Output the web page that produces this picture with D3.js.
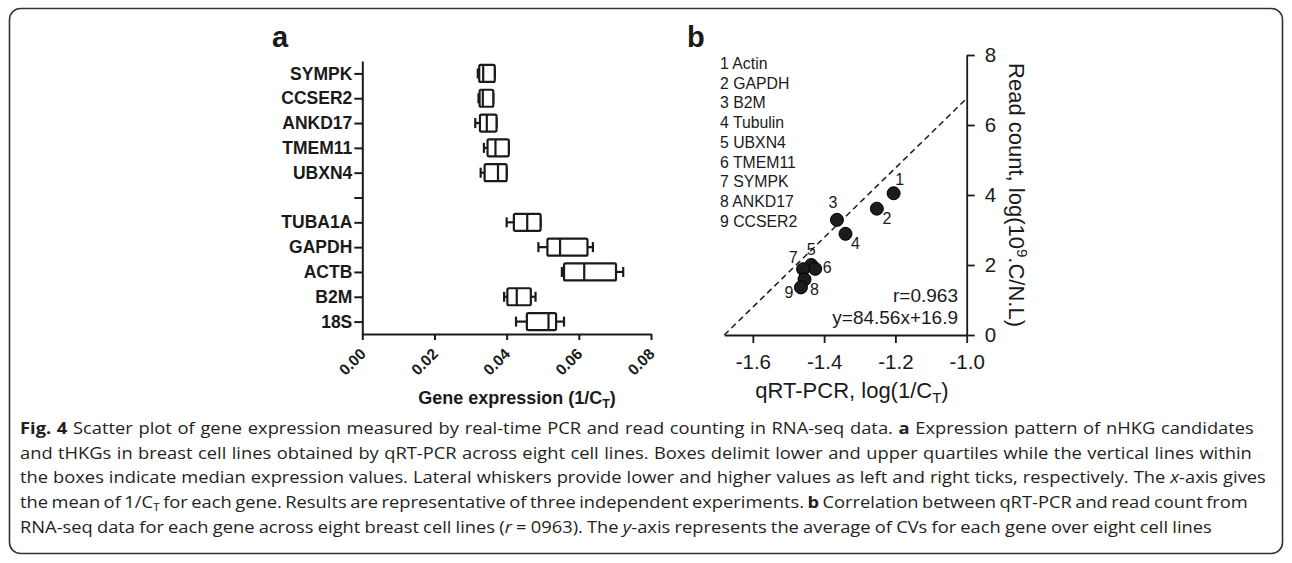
<!DOCTYPE html>
<html>
<head>
<meta charset="utf-8">
<script src="https://cdn.jsdelivr.net/npm/d3@7"></script>
<style>
  html, body { margin: 0; padding: 0; background: #fff; }
  svg { display: block; }
</style>
</head>
<body>
<svg id="chart" width="1292" height="563"></svg>
<script>
// ---------- Panel a data ----------
const categories = ["SYMPK","CCSER2","ANKD17","TMEM11","UBXN4","","TUBA1A","GAPDH","ACTB","B2M","18S"];
const boxGenes   = ["SYMPK","CCSER2","ANKD17","TMEM11","UBXN4","TUBA1A","GAPDH","ACTB","B2M","18S"];
const boxMin = [0.0320, 0.0322, 0.0313, 0.0337, 0.0328, 0.0400, 0.0488, 0.0553, 0.0393, 0.0426];
const boxQ1  = [0.0324, 0.0325, 0.0326, 0.0347, 0.0339, 0.0420, 0.0513, 0.0559, 0.0402, 0.0456];
const boxMed = [0.0335, 0.0334, 0.0345, 0.0369, 0.0376, 0.0457, 0.0548, 0.0615, 0.0428, 0.0516];
const boxQ3  = [0.0367, 0.0363, 0.0372, 0.0406, 0.0400, 0.0494, 0.0624, 0.0703, 0.0467, 0.0537];
const boxMax = [0.0367, 0.0363, 0.0372, 0.0406, 0.0400, 0.0494, 0.0639, 0.0723, 0.0480, 0.0559];
const xTicksA = [0, 0.02, 0.04, 0.06, 0.08];

// ---------- Panel b data ----------
const pointIds = [1,2,3,4,5,6,7,8,9];
const pointNames = ["Actin","GAPDH","B2M","Tubulin","UBXN4","TMEM11","SYMPK","ANKD17","CCSER2"];
const pointX = [-1.205, -1.252, -1.364, -1.340, -1.436, -1.425, -1.459, -1.455, -1.465];
const pointY = [4.05, 3.61, 3.29, 2.89, 2.00, 1.89, 1.88, 1.59, 1.36];
const labelSide = ["ne","se","nnw","se","n","e","wnw","se","sw"];
const fitLineX = [-1.68, -1.0];
const fitLineY = [0, 6.76];
const xTicksB = [-1.6, -1.4, -1.2, -1.0];
const yTicksB = [0, 2, 4, 6, 8];

// ---------- Caption ----------
const captionLines = [
  [["b","Fig. 4"],["n"," Scatter plot of gene expression measured by real-time PCR and read counting in RNA-seq data. "],["b","a"],["n"," Expression pattern of nHKG candidates"]],
  [["n","and tHKGs in breast cell lines obtained by qRT-PCR across eight cell lines. Boxes delimit lower and upper quartiles while the vertical lines within"]],
  [["n","the boxes indicate median expression values. Lateral whiskers provide lower and higher values as left and right ticks, respectively. The "],["i","x"],["n","-axis gives"]],
  [["n","the mean of 1/C"],["s","T"],["n"," for each gene. Results are representative of three independent experiments. "],["b","b"],["n"," Correlation between qRT-PCR and read count from"]],
  [["n","RNA-seq data for each gene across eight breast cell lines ("],["i","r"],["n"," = 0963). The "],["i","y"],["n","-axis represents the average of CVs for each gene over eight cell lines"]]
];
const captionWidths = [1235, 1233, 1247, 1229, 1193];

const svg = d3.select("#chart");
const ink = "#1a1a1a";
const FONT = "Liberation Sans, Arial, sans-serif";

// frame
svg.append("rect").attr("x", 9.5).attr("y", 8.5).attr("width", 1273).attr("height", 545)
  .attr("rx", 11).attr("fill", "none").attr("stroke", "#333").attr("stroke-width", 1.6);

// ================= Panel a =================
const xA = d3.scaleLinear().domain([0, 0.08]).range([362.3, 651]);
const yA = d3.scalePoint().domain(categories).range([61, 334]).padding(0.5);
const gA = svg.append("g").attr("font-family", FONT);

gA.append("text").attr("x", 272).attr("y", 47).attr("font-size", 29).attr("font-weight", "bold")
  .attr("fill", ink).text("a");

const yAxisA = gA.append("g").attr("transform", `translate(${xA(0)},0)`)
  .call(d3.axisLeft(yA).tickSize(8).tickSizeOuter(0).tickPadding(2));
yAxisA.selectAll("path,line").attr("stroke", ink).attr("stroke-width", 2);
yAxisA.selectAll("text").attr("font-size", 17.5).attr("font-weight", "bold").attr("fill", ink)
  .attr("font-family", FONT);

const xAxisA = gA.append("g").attr("transform", `translate(0,334)`)
  .call(d3.axisBottom(xA).tickValues(xTicksA).tickFormat(d3.format(".2f")).tickSize(6).tickSizeOuter(0));
xAxisA.selectAll("path,line").attr("stroke", ink).attr("stroke-width", 2);
xAxisA.selectAll("text").attr("font-size", 15.5).attr("font-weight", "bold").attr("fill", ink)
  .attr("font-family", FONT)
  .attr("text-anchor", "end").attr("dy", null).attr("y", 0)
  .attr("transform", "translate(4,21) rotate(-45)");

const xTitleA = gA.append("text").attr("x", 517).attr("y", 404).attr("text-anchor", "middle")
  .attr("font-size", 18).attr("font-weight", "bold").attr("fill", ink);
xTitleA.append("tspan").text("Gene expression (1/C");
xTitleA.append("tspan").attr("font-size", 12.5).attr("dy", 4).text("T");
xTitleA.append("tspan").attr("dy", -4).text(")");

const boxH = 17, capH = 10;
const boxes = gA.append("g").selectAll("g").data(boxGenes).join("g")
  .attr("transform", d => `translate(0,${yA(d)})`)
  .attr("stroke", ink).attr("stroke-width", 2.2).attr("fill", "none");
boxes.append("line").attr("x1", (d,i) => xA(boxMin[i])).attr("x2", (d,i) => xA(boxQ1[i])).attr("y1", 0).attr("y2", 0);
boxes.append("line").attr("x1", (d,i) => xA(boxQ3[i])).attr("x2", (d,i) => xA(boxMax[i])).attr("y1", 0).attr("y2", 0);
boxes.append("line").attr("x1", (d,i) => xA(boxMin[i])).attr("x2", (d,i) => xA(boxMin[i])).attr("y1", -capH/2).attr("y2", capH/2);
boxes.append("line").attr("x1", (d,i) => xA(boxMax[i])).attr("x2", (d,i) => xA(boxMax[i])).attr("y1", -capH/2).attr("y2", capH/2);
boxes.append("rect").attr("x", (d,i) => xA(boxQ1[i])).attr("y", -boxH/2)
  .attr("width", (d,i) => xA(boxQ3[i]) - xA(boxQ1[i])).attr("height", boxH).attr("rx", 1.5).attr("fill", "#fff");
boxes.append("line").attr("x1", (d,i) => xA(boxMed[i])).attr("x2", (d,i) => xA(boxMed[i])).attr("y1", -boxH/2).attr("y2", boxH/2);

// ================= Panel b =================
const xB = d3.scaleLinear().domain([-1.68, -1.0]).range([724.3, 966.7]);
const yB = d3.scaleLinear().domain([0, 8]).range([335, 55]);
const gB = svg.append("g").attr("font-family", FONT).attr("fill", ink);

gB.append("text").attr("x", 687).attr("y", 47).attr("font-size", 29).attr("font-weight", "bold").text("b");

// legend
gB.append("g").selectAll("text").data(pointIds).join("text")
  .attr("x", 720).attr("y", (d,i) => 69 + i * 19.7)
  .attr("font-size", 15.8).text((d,i) => `${d} ${pointNames[i]}`);

const xAxisB = gB.append("g").attr("transform", `translate(0,${yB(0)})`)
  .call(d3.axisBottom(xB).tickValues(xTicksB).tickFormat(d => d.toFixed(1)).tickSize(8).tickSizeOuter(0).tickPadding(11));
xAxisB.selectAll("path,line").attr("stroke", ink).attr("stroke-width", 1.8);
xAxisB.selectAll("text").attr("font-size", 20.5).attr("fill", ink).attr("font-family", FONT);

const yAxisB = gB.append("g").attr("transform", `translate(${xB(-1.0)},0)`)
  .call(d3.axisRight(yB).tickValues(yTicksB).tickSize(8).tickSizeOuter(0).tickPadding(10));
yAxisB.selectAll("path,line").attr("stroke", ink).attr("stroke-width", 1.8);
yAxisB.selectAll("text").attr("font-size", 20.5).attr("fill", ink).attr("font-family", FONT);

// fit line
gB.append("line")
  .attr("x1", xB(fitLineX[0])).attr("y1", yB(fitLineY[0]))
  .attr("x2", xB(fitLineX[1])).attr("y2", yB(fitLineY[1]))
  .attr("stroke", ink).attr("stroke-width", 1.5).attr("stroke-dasharray", "6,4");

// points
const off = { ne: [6,-14], se: [10,10], nnw: [-4,-17], n: [0,-16], e: [12,-1], wnw: [-10,-12], sw: [-12,5] };
gB.append("g").selectAll("circle").data(pointIds).join("circle")
  .attr("cx", (d,i) => xB(pointX[i])).attr("cy", (d,i) => yB(pointY[i])).attr("r", 6.5)
  .attr("fill", "#1c1c1c").attr("stroke", "#000").attr("stroke-width", 1);
gB.append("g").selectAll("text").data(pointIds).join("text")
  .attr("x", (d,i) => xB(pointX[i]) + off[labelSide[i]][0])
  .attr("y", (d,i) => yB(pointY[i]) + off[labelSide[i]][1])
  .attr("text-anchor", "middle").attr("dominant-baseline", "central")
  .attr("font-size", 16).text(d => d);

gB.append("text").attr("x", 958).attr("y", 302).attr("text-anchor", "end").attr("font-size", 19).text("r=0.963");
gB.append("text").attr("x", 958).attr("y", 324).attr("text-anchor", "end").attr("font-size", 19).text("y=84.56x+16.9");

const xTitleB = gB.append("text").attr("x", 852).attr("y", 398).attr("text-anchor", "middle").attr("font-size", 22);
xTitleB.append("tspan").text("qRT-PCR, log(1/C");
xTitleB.append("tspan").attr("font-size", 15).attr("dy", 5).text("T");
xTitleB.append("tspan").attr("dy", -5).text(")");

const yTitleB = gB.append("text").attr("transform", "translate(1009,195) rotate(90)")
  .attr("text-anchor", "middle").attr("font-size", 22);
yTitleB.append("tspan").text("Read count, log(10");
yTitleB.append("tspan").attr("font-size", 15).attr("dy", -8).text("9");
yTitleB.append("tspan").attr("dy", 8).text(".C/N.L)");

// ================= Caption =================
const capG = svg.append("g").attr("font-family", "Open Sans, Noto Sans, sans-serif").attr("fill", "#231f20");
const capTexts = captionLines.map((segs) => {
  const t = capG.append("text").attr("x", 0).attr("y", 0).attr("font-size", 16.5);
  segs.forEach(([k, s], j) => {
    const ts = t.append("tspan").text(s);
    if (k === "b") ts.attr("font-weight", "bold");
    if (k === "i") ts.attr("font-style", "italic");
    if (k === "s") ts.attr("font-size", 11).attr("dy", 3);
    if (j > 0 && segs[j-1][0] === "s") ts.attr("dy", -3);
  });
  return t;
});
const natural = capTexts.map(t => t.node().getComputedTextLength());
const kScale = d3.mean(natural.map((w, i) => captionWidths[i] / w));
capTexts.forEach((t, li) => {
  const spaces = captionLines[li].map(s => s[1]).join("").split(" ").length - 1;
  const extra = Math.max(-1.5, (captionWidths[li] / kScale - natural[li]) / spaces);
  t.attr("word-spacing", extra);
  t.attr("transform", `translate(20,${434 + li * 24.7}) scale(${kScale},1)`);
});
</script>
</body>
</html>
